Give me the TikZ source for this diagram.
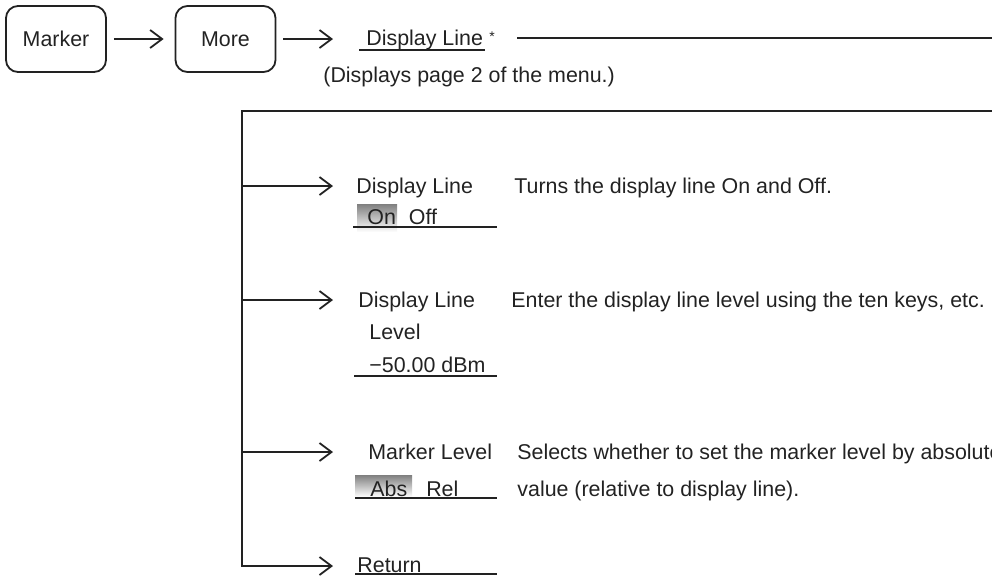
\documentclass[tikz,border=0pt]{standalone}
\usepackage{fontspec}
\setmainfont{Liberation Sans}
\usetikzlibrary{arrows.meta}
\usetikzlibrary{positioning}
\definecolor{ink}{HTML}{222222}
\definecolor{shade}{HTML}{EAEAEA}

\begin{document}
\begin{tikzpicture}[x=0.5pt,y=-0.5pt,
  every node/.style={font=\fontsize{10.7pt}{12pt}\selectfont, text=ink, inner sep=0pt},
  keybox/.style={draw=ink, line width=0.9pt, rounded corners=6pt, minimum width=50pt, minimum height=33pt},
  flow/.style={draw=ink, line width=0.9pt, -{Straight Barb[length=6pt,width=9pt,line width=0.9pt]}},
  rule/.style={draw=ink, line width=0.9pt},
  txt/.style={anchor=base west}]
\clip (0,0) rectangle (992,575);

% key sequence
\node[keybox] (marker) at (56,39) {Marker};
\node[keybox] (more) at (225.5,39) {More};
\node[txt] (dltop) at (366,45) {Display Line};
\node[txt, font=\fontsize{7pt}{8pt}\selectfont] (star) at (489,41) {*};
\node[txt] (pagenote) at (323,82) {(Displays page 2 of the menu.)};
\draw[rule] (359,50) -- (485,50);

\draw[flow] ([xshift=3.5pt]marker.east) -- ([xshift=-5.5pt]more.west);
\draw[flow] ([xshift=3.5pt]more.east) -- ([xshift=-16.5pt]more.east -| dltop.west);

% menu tree
\coordinate (wrap) at (517,38);
\coordinate (trunk) at (242,111);
\coordinate (corner) at (242,566);
\coordinate (rethead) at (333,566);
\draw[flow] (wrap) -- (1010,38) -- (1010,111) -- (trunk) -- (corner) -- (rethead);

\foreach \n/\y in {1/186,2/300,3/452} {
  \coordinate (b\n) at (242,\y);
  \coordinate (h\n) at (333,\y);
  \draw[flow] (b\n) -- (h\n);
}

% selected settings
\fill[shade] (357,204) rectangle (397,232);
\fill[shade] (355,475) rectangle (412,497);

% Display Line On/Off
\node[txt] (dl1) at (356,193) {Display Line};
\node[txt] (onoff) at (367,224) {On\hspace{6.5pt}Off};
\node[txt] (turns) at (514,193) {Turns the display line On and Off.};
\draw[rule] (353,227) -- (497,227);

% Display Line Level
\node[txt] (dl2) at (358,307) {Display Line};
\node[txt] (lvl) at (369,339) {Level};
\node[txt] (dbm) at (369,372) {−50.00 dBm};
\node[txt] (enter) at (511,307) {Enter the display line level using the ten keys, etc.};
\draw[rule] (354,376) -- (497,376);

% Marker Level Abs/Rel
\node[txt] (mlvl) at (368,459) {Marker Level};
\node[txt] (absrel) at (370,496) {Abs\hspace{9.5pt}Rel};
\node[txt] (sel) at (517,459) {Selects whether to set the marker level by absolute};
\node[txt] (val) at (517,496) {value (relative to display line).};
\draw[rule] (355,498) -- (497,498);

% Return
\node[txt] (ret) at (357,572) {Return};
\draw[rule] (355,574) -- (497,574);
\end{tikzpicture}
\end{document}
